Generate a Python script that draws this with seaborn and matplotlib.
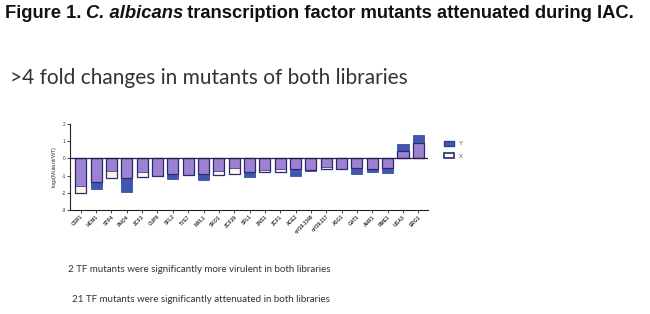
import numpy as np
import pandas as pd
import matplotlib
matplotlib.use("Agg")
import matplotlib.pyplot as plt
import seaborn as sns
from matplotlib.patches import Patch

genes = ["CSR1", "HCM1", "STP4", "PHO4", "ZCF3", "CUP9", "SFL2", "TYE7", "MRL1",
         "SKO1", "ZCF29", "SFL1", "ZNS1", "ZCF1", "ACE2", "orf19.3349", "orf19.217",
         "ASG1", "GAT1", "AHR1", "RME1", "UGA3", "ERG1"]
y_vals = [-1.62, -1.80, -0.73, -1.95, -0.77, -1.02, -1.20, -0.95, -1.25,
          -0.73, -0.58, -1.10, -0.70, -0.62, -1.00, -0.75, -0.52,
          -0.62, -0.92, -0.77, -0.87, 0.83, 1.35]
x_vals = [-2.00, -1.35, -1.15, -1.13, -1.06, -1.05, -0.92, -0.95, -0.92,
          -0.94, -0.90, -0.80, -0.80, -0.80, -0.62, -0.67, -0.62,
          -0.62, -0.58, -0.62, -0.56, 0.44, 0.92]
yticks = [-3, -2, -1, 0, 1, 2]

df = pd.DataFrame({"gene": genes, "Y": y_vals, "X": x_vals})
yv = np.array(y_vals); xv = np.array(x_vals)
df["overlap"] = np.sign(yv) * np.minimum(np.abs(yv), np.abs(xv))

sns.set_style("white")
plt.rcParams["font.family"] = ["Liberation Sans", "DejaVu Sans"]

fig = plt.figure(figsize=(6.5, 3.14), dpi=100)
ax = fig.add_axes([70/650, 1 - 210/314, 358/650, 86/314])

edge = "#2b2a6e"
blue = "#3f57b2"
purple = "#9d82d2"
cream = "#fdf4ec"
w = 0.72
n = len(genes)
sns.barplot(data=df, x="gene", y="X", color=cream, linewidth=0, width=w, ax=ax, saturation=1)
sns.barplot(data=df, x="gene", y="Y", color=blue, edgecolor="#2e3f8f", linewidth=0.5,
            width=w, ax=ax, saturation=1)
sns.barplot(data=df, x="gene", y="overlap", color=purple, linewidth=0, width=w, ax=ax, saturation=1)
sns.barplot(data=df, x="gene", y="X", color=cream, linewidth=0, width=w, ax=ax, saturation=1)
for p in ax.patches[3*n:4*n]:
    p.set_facecolor("none")
    p.set_edgecolor(edge)
    p.set_linewidth(0.9)
    p.set_zorder(3)

ax.set_xlim(-0.7, n - 1 + 0.63)
ax.set_ylim(-3, 2)
ax.set_yticks(yticks)
ax.set_yticklabels([str(t) for t in yticks], fontsize=3.5, color="#333333")
ax.axhline(0, color="#222244", lw=0.9, zorder=4)
ax.set_xticks(range(n))
ax.set_xticklabels(genes, rotation=45, ha="right", fontsize=3.5, color="#333333",
                   rotation_mode="anchor", fontweight="bold")
ax.tick_params(axis="both", length=2, width=0.6, pad=1, direction="out")
ax.tick_params(axis="x", bottom=True)
ax.tick_params(axis="y", left=True)
for s in ["top", "right"]:
    ax.spines[s].set_visible(False)
for s in ["left", "bottom"]:
    ax.spines[s].set_color("#222222")
    ax.spines[s].set_linewidth(0.8)
ax.set_xlabel("")
ax.set_ylabel("log$_2$(Mutant/WT)", fontsize=4, color="#333333", labelpad=2)

handles = [Patch(facecolor=blue, edgecolor="#2e3f8f", label="Y"),
           Patch(facecolor="white", edgecolor=edge, linewidth=1.2, label="X")]
fig.legend(handles=handles, loc="upper left", bbox_to_anchor=(438/650, 1 - 135/314),
           frameon=False, fontsize=4.5, handlelength=1.6, handleheight=0.9,
           labelspacing=1.1, labelcolor="#555555")

renderer = fig.canvas.get_renderer()
pieces = [("Figure 1. ", "normal"), ("C. albicans", "italic"),
          (" transcription factor mutants attenuated during IAC.", "normal")]
x0 = 5
for txt, style in pieces:
    t = fig.text(x0/650, 1 - 13/314, txt, fontsize=13.2, fontweight="bold", style=style,
                 color="#111111", va="center", ha="left")
    bb = t.get_window_extent(renderer=renderer)
    x0 = bb.x1 - (2 if style == "italic" else 0)

fig.text(10/650, 1 - 78/314, ">4 fold changes in mutants of both libraries",
         fontsize=15, color="#333333", va="center", ha="left", family=["Lato", "DejaVu Sans"])
fig.text(68/650, 1 - 270/314, "2 TF mutants were significantly more virulent in both libraries",
         fontsize=7, color="#333333", va="center", ha="left", family=["Lato", "DejaVu Sans"])
fig.text(72/650, 1 - 300/314, "21 TF mutants were significantly attenuated in both libraries",
         fontsize=7, color="#333333", va="center", ha="left", family=["Lato", "DejaVu Sans"])

fig.savefig("out.png", dpi=100, facecolor="white")
